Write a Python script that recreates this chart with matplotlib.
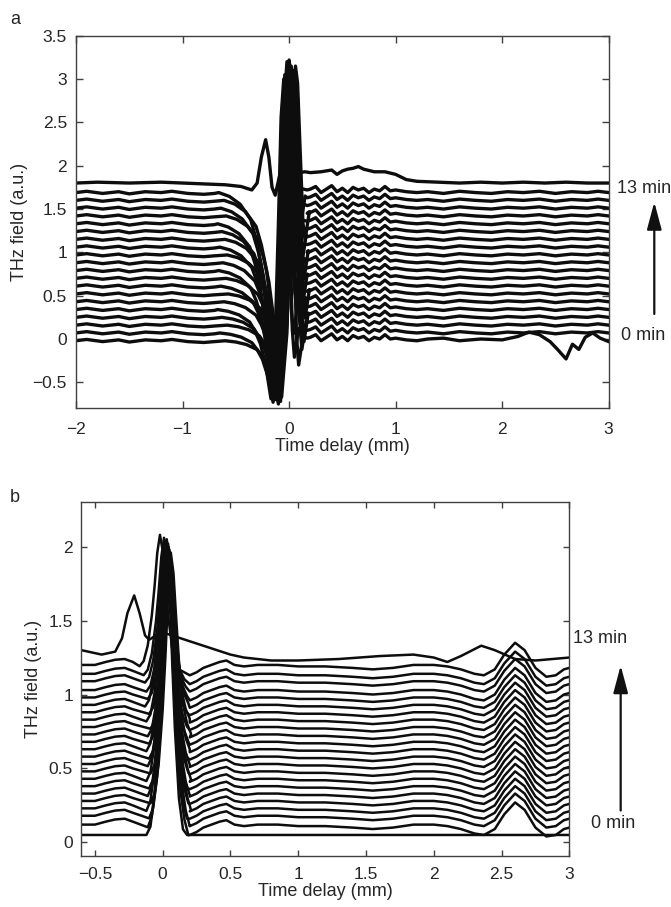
import matplotlib
matplotlib.use("Agg")
import matplotlib.pyplot as plt
from matplotlib.patches import FancyArrowPatch

plt.rcParams['font.family'] = ['Liberation Sans', 'DejaVu Sans']

# ---------------- panel a data ----------------
# baseline offsets of the traces, 0 min at bottom .. 13 min at top
offs_a = [-0.02, 0.07, 0.16, 0.25, 0.34, 0.43, 0.52, 0.61, 0.70, 0.79,
          0.88, 0.97, 1.06, 1.15, 1.24, 1.33, 1.42, 1.51, 1.60, 1.69]
dip_x_a = [-0.1, -0.15, -0.08, -0.13, -0.17, -0.11, -0.07, -0.14, -0.09, -0.16,
           -0.12, -0.08, -0.15, -0.1, -0.13, -0.17, -0.09, -0.14, -0.11, -0.16]
dip_y_a = [-0.75, -0.73, -0.72, -0.7, -0.69, -0.68, -0.67, -0.66, -0.65, -0.64,
           -0.63, -0.62, -0.61, -0.6, -0.59, -0.58, -0.57, -0.56, -0.55, -0.54]
peak_x_a = [0.0, -0.04, 0.03, 0.05, -0.05, 0.02, 0.06, -0.02, 0.04, -0.03,
            0.01, 0.05, -0.01, 0.03, -0.02, -0.04, 0.06, 0.0, 0.02, -0.03]
peak_y_a = [2.95, 3.0, 3.05, 3.1, 3.0, 3.15, 3.05, 3.2, 3.1, 3.0,
            3.12, 3.08, 3.18, 3.0, 3.1, 3.05, 3.15, 3.22, 3.1, 3.05]

# baseline before the pulse
xa_base = [-2.0, -1.9, -1.75, -1.6, -1.5, -1.35, -1.2, -1.1, -0.95, -0.8, -0.7]
da_base = [0.0, 0.015, -0.01, 0.01, -0.015, 0.01, 0.0, 0.015, -0.01, -0.02, -0.01]
# slow fall into the negative lobe, relative to the dip position (fraction of depth)
fall_dx = [-0.5, -0.4, -0.3, -0.2, -0.15, -0.1, -0.05, 0.0]
fall_f = [0.0, 0.02, 0.06, 0.14, 0.24, 0.38, 0.62, 1.0]
# main positive lobe, relative to the peak position
rise_dx = [-0.08, -0.05, -0.025, 0.0, 0.02, 0.045, 0.07]
rise_f = [0.2, 0.55, 0.88, 1.0, 0.9, 0.5, 0.1]
# ripple after the pulse
xa_rip = [0.2, 0.25, 0.3, 0.35, 0.4, 0.45, 0.5, 0.55, 0.6,
          0.65, 0.7, 0.75, 0.8, 0.85, 0.9, 0.95, 1.0, 1.1, 1.2]
da_rip = [0.04, 0.07, 0.0, 0.04, 0.08, 0.01, 0.05, 0.0, 0.06,
          0.03, 0.05, 0.0, 0.04, 0.02, 0.07, 0.02, 0.03, 0.01, 0.0]
xa_tail = [1.3, 1.45, 1.6, 1.75, 1.9, 2.05, 2.2, 2.35, 2.5, 2.65, 2.8, 2.9, 3.0]
da_tail = [0.01, -0.01, 0.015, 0.0, -0.01, 0.01, 0.0, 0.015, -0.01, 0.01, 0.0, 0.015, 0.0]

# 0 min trace: the tail has a dip near 2.6 mm
xa_tail0 = [1.3, 1.45, 1.6, 1.8, 2.0, 2.15, 2.25, 2.35, 2.45, 2.52, 2.6, 2.66,
            2.72, 2.78, 2.85, 2.92, 3.0]
ya_tail0 = [0.0, 0.01, -0.02, 0.0, -0.01, 0.03, 0.08, 0.05, -0.03, -0.12, -0.23,
            -0.06, -0.12, 0.02, 0.07, 0.01, -0.03]

# 13 min trace
xa_top = [-2.0, -1.8, -1.5, -1.2, -1.0, -0.8, -0.6, -0.45, -0.35, -0.3, -0.26,
          -0.22, -0.19, -0.16, -0.13, -0.09, -0.05, 0.0, 0.05, 0.1, 0.15, 0.2,
          0.3, 0.4, 0.45, 0.5, 0.55, 0.6, 0.65, 0.7, 0.8, 0.9, 1.0, 1.1, 1.2,
          1.4, 1.6, 1.8, 2.0, 2.2, 2.4, 2.6, 2.8, 3.0]
ya_top = [1.8, 1.81, 1.8, 1.81, 1.8, 1.79, 1.78, 1.76, 1.72, 1.8, 2.1,
          2.3, 2.1, 1.75, 1.66, 1.88, 1.92, 1.95, 1.9, 1.92, 1.93, 1.92,
          1.93, 1.95, 1.9, 1.94, 1.96, 1.97, 1.99, 1.96, 1.93, 1.93, 1.9, 1.84, 1.82,
          1.81, 1.8, 1.81, 1.8, 1.81, 1.8, 1.81, 1.8, 1.8]

# ---------------- panel b data ----------------
offs_b = [0.12, 0.18, 0.23, 0.28, 0.33, 0.38, 0.43, 0.48, 0.53, 0.58, 0.63,
          0.68, 0.73, 0.78, 0.83, 0.88, 0.93, 0.98, 1.03, 1.09, 1.14, 1.2]
peak_x_b = [0.04, 0.05, 0.03, 0.06, 0.04, 0.05, 0.03, 0.06, 0.04, 0.05, 0.03,
            0.05, 0.04, 0.06, 0.03, 0.05, 0.02, 0.04, 0.03, 0.02, 0.01, -0.02]
peak_y_b = [1.92, 1.95, 1.98, 1.9, 2.0, 1.94, 1.97, 1.92, 2.02, 1.95, 1.99,
            1.93, 2.0, 1.96, 2.03, 1.98, 2.04, 2.0, 2.05, 2.02, 2.06, 2.08]

xb_pre = [-0.6, -0.5, -0.42, -0.35, -0.28, -0.22]
db_pre = [0.0, 0.0, 0.02, 0.035, 0.04, 0.02]
pulse_dx = [-0.15, -0.12, -0.09, -0.06, -0.04, -0.02, 0.0, 0.02, 0.04, 0.06, 0.09, 0.12, 0.15]
pulse_f = [-0.01, 0.03, 0.15, 0.38, 0.6, 0.86, 1.0, 0.88, 0.62, 0.38, 0.13, 0.02, -0.04]
xb_post = [0.2, 0.25, 0.3, 0.36, 0.42, 0.47, 0.53, 0.6, 0.7, 0.85, 1.0, 1.2,
           1.4, 1.55, 1.7, 1.85, 2.0, 2.1, 2.2, 2.3, 2.37, 2.45, 2.52, 2.6,
           2.67, 2.75, 2.83, 2.9, 2.96, 3.0]
db_post = [-0.07, -0.05, -0.02, 0.0, 0.02, 0.03, 0.0, -0.01, 0.0, 0.0, -0.01,
           -0.01, -0.02, -0.03, -0.02, 0.0, 0.0, -0.01, -0.03, -0.06, -0.07,
           -0.03, 0.07, 0.15, 0.1, -0.02, -0.08, -0.07, -0.03, -0.02]

# 0 min trace (flat with a single pulse)
base_b0 = 0.05
peak_b0 = (0.03, 1.95)

# 13 min trace
xb_top = [-0.6, -0.45, -0.35, -0.3, -0.26, -0.21, -0.17, -0.13, -0.1, -0.05,
          0.0, 0.1, 0.2, 0.3, 0.4, 0.5, 0.6, 0.8, 1.0, 1.3, 1.6, 1.85, 2.0,
          2.1, 2.2, 2.35, 2.45, 2.6, 2.75, 3.0]
yb_top = [1.3, 1.27, 1.29, 1.38, 1.55, 1.67, 1.55, 1.4, 1.37, 1.4,
          1.42, 1.39, 1.36, 1.33, 1.3, 1.27, 1.25, 1.23, 1.23, 1.24, 1.26, 1.27, 1.25,
          1.22, 1.26, 1.33, 1.3, 1.24, 1.23, 1.25]

line_col = '#0d0d0d'
ax_col = '#404040'
txt_col = '#262626'

fig = plt.figure(figsize=(6.71, 9.07), dpi=100)

# ---------------- panel a ----------------
ax1 = fig.add_axes([0.1133, 0.5498, 0.7938, 0.4108])
for i in range(len(offs_a)):
    o = offs_a[i]
    dx0, dy0 = dip_x_a[i], dip_y_a[i]
    px, py = peak_x_a[i], peak_y_a[i]
    post = o - 0.28
    xs, ys = [], []
    for x, d in zip(xa_base, da_base):
        xs.append(x)
        ys.append(o + d)
    for d, f in zip(fall_dx, fall_f):
        xs.append(dx0 + d)
        ys.append(o - (o - dy0) * f)
    for d, f in zip(rise_dx, rise_f):
        xs.append(px + d)
        if d <= 0:
            ys.append(dy0 + f * (py - dy0))
        else:
            ys.append(post + f * (py - post))
    xs += [px + 0.09, px + 0.13, 0.17]
    ys += [post, o + 0.05, o + 0.03]
    for x, d in zip(xa_rip, da_rip):
        xs.append(x)
        ys.append(o + d)
    if i == 0:
        xs += xa_tail0
        ys += ya_tail0
    else:
        for x, d in zip(xa_tail, da_tail):
            xs.append(x)
            ys.append(o + d)
    ax1.plot(xs, ys, color=line_col, lw=2.4, solid_joinstyle='round')
ax1.plot(xa_top, ya_top, color=line_col, lw=2.4, solid_joinstyle='round')

ax1.set_xlim(-2, 3)
ax1.set_ylim(-0.8, 3.5)
ax1.set_xticks([-2, -1, 0, 1, 2, 3])
ax1.set_yticks([-0.5, 0, 0.5, 1, 1.5, 2, 2.5, 3, 3.5])
ax1.set_yticklabels(['\u22120.5', '0', '0.5', '1', '1.5', '2', '2.5', '3', '3.5'])
ax1.set_xlabel('Time delay (mm)', fontsize=13, color=txt_col, labelpad=1)
ax1.set_ylabel('THz field (a.u.)', fontsize=13, color=txt_col, labelpad=3)

# ---------------- panel b ----------------
ax2 = fig.add_axes([0.1212, 0.0566, 0.7273, 0.3896])
xs = [-0.6] + [peak_b0[0] + d for d in pulse_dx] + [3.0]
ys = [base_b0] + [base_b0 + max(f, 0) * (peak_b0[1] - base_b0) for f in pulse_f] + [base_b0]
ax2.plot(xs, ys, color=line_col, lw=1.8, solid_joinstyle='round')
for i in range(len(offs_b)):
    o = offs_b[i]
    px, py = peak_x_b[i], peak_y_b[i]
    xs, ys = [], []
    for x, d in zip(xb_pre, db_pre):
        xs.append(x)
        ys.append(o + d)
    for d, f in zip(pulse_dx, pulse_f):
        xs.append(px + d)
        ys.append(o + f * (py - o))
    for x, d in zip(xb_post, db_post):
        xs.append(x)
        ys.append(o + d)
    ax2.plot(xs, ys, color=line_col, lw=1.8, solid_joinstyle='round')
ax2.plot(xb_top, yb_top, color=line_col, lw=1.8, solid_joinstyle='round')

ax2.set_xlim(-0.6, 3)
ax2.set_ylim(-0.09, 2.3)
ax2.set_xticks([-0.5, 0, 0.5, 1, 1.5, 2, 2.5, 3])
ax2.set_xticklabels(['\u22120.5', '0', '0.5', '1', '1.5', '2', '2.5', '3'])
ax2.set_yticks([0, 0.5, 1, 1.5, 2])
ax2.set_yticklabels(['0', '0.5', '1', '1.5', '2'])
ax2.set_xlabel('Time delay (mm)', fontsize=13, color=txt_col, labelpad=1)
ax2.set_ylabel('THz field (a.u.)', fontsize=13, color=txt_col, labelpad=5)

for ax, xpad, ypad, tl in [(ax1, 9.5, 6.5, 5), (ax2, 8.0, 6.0, 4)]:
    for s in ax.spines.values():
        s.set_color(ax_col)
        s.set_linewidth(1.0)
    ax.tick_params(direction='in', top=True, right=True, length=tl, width=1.0,
                   color=ax_col, labelcolor=txt_col, labelsize=12.5)
    ax.tick_params(axis='x', pad=xpad)
    ax.tick_params(axis='y', pad=ypad)

# panel letters and time arrows
fig.text(0.022, 0.978, 'a', fontsize=13, color=txt_col, va='center', ha='center')
fig.text(0.022, 0.452, 'b', fontsize=13, color=txt_col, va='center', ha='center')

fig.text(0.919, 0.7924, '13 min', fontsize=13, color=txt_col, va='center')
fig.text(0.9255, 0.6299, '0 min', fontsize=13, color=txt_col, va='center')
fig.patches.append(FancyArrowPatch(
    (0.9751, 0.6508), (0.9751, 0.7803), transform=fig.transFigure,
    arrowstyle='-|>,head_length=1.2,head_width=0.32', mutation_scale=14,
    color='#111111', lw=1.6))

fig.text(0.8535, 0.2955, '13 min', fontsize=13, color=txt_col, va='center')
fig.text(0.8803, 0.0923, '0 min', fontsize=13, color=txt_col, va='center')
fig.patches.append(FancyArrowPatch(
    (0.9250, 0.1033), (0.9250, 0.2693), transform=fig.transFigure,
    arrowstyle='-|>,head_length=1.2,head_width=0.32', mutation_scale=14,
    color='#111111', lw=1.6))

fig.savefig('out.png', dpi=100)
